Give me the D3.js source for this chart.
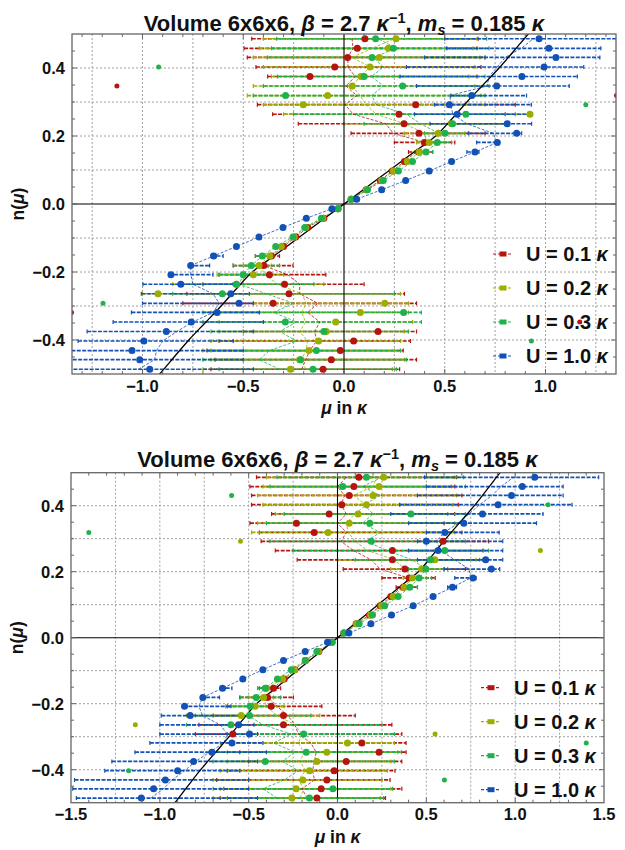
<!DOCTYPE html>
<html><head><meta charset="utf-8">
<script src="https://cdn.jsdelivr.net/npm/d3@7"></script>
<style>
body{margin:0;background:#fff}
svg{display:block}
text{font-family:"Liberation Sans",Arial,sans-serif;font-weight:bold;fill:#111}
</style>
</head><body>
<svg id="chart" width="625" height="850"></svg>
<script>
// ---------- data ----------
const densities = [-0.486,-0.458,-0.431,-0.403,-0.375,-0.347,-0.319,-0.292,-0.264,-0.236,-0.208,-0.181,-0.153,-0.125,-0.097,-0.069,-0.042,-0.014,
                    0.014,0.042,0.069,0.097,0.125,0.153,0.181,0.208,0.236,0.264,0.292,0.319,0.347,0.375,0.403,0.431,0.458,0.486];
const legendValues = ["0.1","0.2","0.3","1.0"];
const seriesColors = ["#b5140f","#9cad00","#1fb24c","#1251b5"];
const curveDensity = [-0.55,-0.5,-0.45,-0.4,-0.35,-0.3,-0.25,-0.2,-0.15,-0.1,-0.05,0,0.05,0.1,0.15,0.2,0.25,0.3,0.35,0.4,0.45,0.5,0.55];
const curveMu = [-0.99,-0.915,-0.843,-0.77,-0.69,-0.61,-0.535,-0.455,-0.341,-0.228,-0.114,0,0.114,0.228,0.341,0.455,0.535,0.61,0.69,0.77,0.843,0.915,0.99];
const xTicksTop = [-1,-0.5,0,0.5,1];
const xTicksBottom = [-1.5,-1,-0.5,0,0.5,1,1.5];
const yTicks = [-0.4,-0.2,0,0.2,0.4];

// top panel
const topRedMu = [-0.104,-0.063,-0.018,0.048,0.169,1.17,-1.352,-0.352,-0.273,-0.295,-0.37,-0.398,-0.36,-0.30,-0.24,-0.18,-0.10,-0.03,
                  0.035,0.11,0.18,0.24,0.30,0.37,0.399,0.372,0.298,0.273,0.356,1.352,-1.127,-0.169,-0.046,0.018,0.066,0.104];
const topRedLo = [-0.66,-0.64,-0.68,-0.62,-0.50,null,null,-0.80,-0.78,-0.70,-0.62,-0.55,-0.44,null,null,null,null,null,
                  null,null,null,null,null,0.32,0.25,0.035,-0.227,-0.354,-0.43,null,null,-0.379,-0.437,-0.48,-0.496,-0.458];
const topRedHi = [0.276,0.36,0.294,0.33,0.36,null,null,0.36,0.30,0.10,-0.09,-0.253,-0.32,null,null,null,null,null,
                  null,null,null,null,null,0.44,0.55,0.70,0.82,0.80,0.85,null,null,0.66,0.68,0.70,0.66,0.666];
const topRedLine = [-0.21,-0.19,-0.17,-0.136,-0.145,-0.12,-0.18,-0.13,-0.22,-0.22,-0.28,-0.40,-0.36,-0.30,-0.24,-0.18,-0.10,-0.03,
                    0.035,0.11,0.18,0.24,0.30,0.36,0.40,0.245,0.207,0.046,0.005,0.063,0.01,0.055,0.02,0.018,0.045,0.04];

const topOliveMu = [-0.266,-0.22,-0.174,-0.126,-0.088,-0.041,0.081,0.202,-0.923,-0.534,-0.45,-0.422,-0.368,-0.311,-0.247,-0.19,-0.105,-0.03,
                    0.035,0.112,0.187,0.245,0.314,0.374,0.423,0.468,0.534,0.923,-0.202,-0.081,0.041,0.084,0.129,0.175,0.22,0.258];
const topOliveLo = [-0.70,-0.66,-0.70,-0.66,-0.62,-0.62,-0.66,-0.45,-1.0,-0.85,-0.63,-0.50,-0.40,null,null,null,null,null,
                    null,null,null,null,null,0.35,0.36,0.30,0.0,-0.30,-0.40,-0.48,-0.45,-0.36,-0.40,-0.45,-0.42,-0.40];
const topOliveHi = [0.24,0.30,0.25,0.28,0.30,0.34,0.32,0.32,0.28,-0.10,-0.30,-0.36,-0.35,null,null,null,null,null,
                    null,null,null,null,null,0.40,0.50,0.60,0.80,0.93,0.70,0.68,0.65,0.62,0.65,0.675,0.64,0.66];
const topOliveLine = [-0.19,-0.21,-0.19,-0.18,-0.22,-0.19,-0.21,-0.187,-0.21,-0.33,-0.39,-0.42,-0.368,-0.311,-0.247,-0.19,-0.105,-0.03,
                      0.035,0.112,0.187,0.245,0.314,0.374,0.41,0.40,0.30,0.16,0.11,0.08,0.04,0.08,0.13,0.04,0.14,0.25];

const topGreenMu = [-0.154,-0.215,-0.137,0.93,-0.10,-0.291,0.296,-1.196,-0.604,-0.534,-0.50,-0.46,-0.405,-0.339,-0.253,-0.195,-0.112,-0.03,
                    0.037,0.117,0.195,0.27,0.34,0.407,0.463,0.501,0.539,0.605,1.2,-0.29,0.291,0.10,-0.92,0.139,0.245,0.157];
const topGreenLo = [-0.62,-0.70,-0.66,null,-0.66,-0.70,-0.70,null,-0.85,-0.80,-0.62,-0.55,-0.44,null,null,null,null,null,
                    null,null,null,null,null,0.38,0.40,0.40,0.10,-0.25,null,-0.45,-0.40,-0.33,null,-0.38,-0.36,-0.334];
const topGreenHi = [0.26,0.31,0.28,null,0.32,0.384,0.384,null,0.25,-0.15,-0.38,-0.32,-0.38,null,null,null,null,null,
                    null,null,null,null,null,0.44,0.534,0.62,0.82,0.85,null,0.70,0.72,0.70,null,0.70,0.72,0.708];
const topGreenLine = [-0.32,-0.42,-0.37,-0.235,-0.32,-0.235,-0.35,-0.25,-0.385,-0.52,-0.50,-0.46,-0.405,-0.339,-0.253,-0.195,-0.112,-0.03,
                      0.037,0.117,0.195,0.27,0.34,0.407,0.463,0.47,0.38,0.31,0.16,0.137,0.195,0.137,0.195,0.145,0.26,0.17];

const topBlueMu = [-0.964,-1.014,-1.052,-0.993,-0.882,-0.758,-0.63,-0.521,-0.562,-0.81,-0.859,-0.761,-0.647,-0.534,-0.422,-0.303,-0.187,-0.06,
                   0.063,0.187,0.306,0.423,0.534,0.65,0.761,0.857,0.81,0.562,0.523,0.634,0.758,0.883,0.993,1.052,1.017,0.968];
const topBlueLo = [-1.45,-1.40,-1.38,-1.32,-1.275,-1.146,-1.055,-1.0,-1.006,-0.998,-0.87,-0.77,-0.66,null,null,null,null,null,
                   null,null,null,null,null,0.61,0.658,0.617,0.427,0.35,0.45,0.53,0.36,0.278,0.31,0.40,0.51,0.50];
const topBlueHi = [-0.45,-0.50,-0.50,-0.55,-0.45,-0.40,-0.42,-0.45,-0.47,-0.55,-0.65,-0.667,-0.60,null,null,null,null,null,
                   null,null,null,null,null,0.67,0.77,0.882,0.931,0.935,0.93,0.906,1.118,1.158,1.19,1.27,1.275,1.45];
const topBlueLine = [-1.02,-0.94,-0.93,-0.90,-0.83,-0.75,-0.65,-0.62,-0.65,-0.75,-0.76,-0.761,-0.647,-0.534,-0.422,-0.303,-0.187,-0.06,
                     0.063,0.187,0.306,0.423,0.534,0.65,0.761,0.74,0.61,0.54,0.53,0.526,0.71,0.72,0.76,0.80,0.88,0.94];

// bottom panel
const botRedMu = [-0.116,-0.092,-0.06,-0.019,0.049,0.234,0.137,-0.589,-0.304,-0.304,-0.373,-0.394,-0.36,-0.30,-0.24,-0.18,-0.105,-0.035,
                  0.035,0.105,0.18,0.24,0.30,0.37,0.403,0.379,0.309,0.309,0.594,-0.131,-0.231,-0.047,0.024,0.066,0.092,0.12];
const botRedLo = [-0.66,-0.64,-0.68,-0.62,-0.50,-0.55,-0.60,-0.80,-0.78,-0.70,-0.62,-0.55,-0.44,null,null,null,null,null,
                  null,null,null,null,null,0.33,0.25,0.032,-0.227,-0.35,-0.43,-0.44,-0.493,-0.371,-0.484,-0.484,-0.493,-0.456];
const botRedHi = [0.27,0.362,0.296,0.324,0.362,0.386,0.386,0.362,0.306,0.10,-0.088,-0.248,-0.32,null,null,null,null,null,
                  null,null,null,null,null,0.45,0.55,0.72,0.82,0.82,0.85,0.70,0.60,0.66,0.68,0.70,0.66,0.67];
const botRedLine = [-0.17,-0.20,-0.13,-0.14,-0.13,-0.12,-0.15,-0.22,-0.24,-0.28,-0.34,-0.39,-0.36,-0.30,-0.24,-0.18,-0.105,-0.035,
                    0.035,0.105,0.18,0.24,0.30,0.36,0.40,0.24,0.19,0.09,0.02,0.05,0.0,0.05,0.02,0.04,0.0,0.05];

const botOliveMu = [-0.257,-0.233,-0.195,-0.158,-0.116,-0.06,0.056,0.549,-1.138,-0.542,-0.463,-0.416,-0.40,-0.308,-0.242,-0.18,-0.107,-0.03,
                    0.037,0.107,0.186,0.248,0.313,0.375,0.422,0.473,0.548,1.142,-0.546,-0.053,0.066,0.116,0.163,0.20,0.234,0.26];
const botOliveLo = [-0.70,-0.66,-0.70,-0.66,-0.62,-0.62,-0.66,null,null,-0.85,-0.63,-0.50,-0.42,null,null,null,null,null,
                    null,null,null,null,null,0.36,0.37,0.30,0.0,null,null,-0.484,-0.45,-0.35,-0.42,-0.45,-0.42,-0.40];
const botOliveHi = [0.24,0.30,0.25,0.28,0.30,0.34,0.32,null,null,-0.10,-0.30,-0.36,-0.37,null,null,null,null,null,
                    null,null,null,null,null,0.40,0.50,0.60,0.78,null,null,0.66,0.66,0.62,0.65,0.67,0.64,0.66];
const botOliveLine = [-0.21,-0.19,-0.22,-0.18,-0.21,-0.19,-0.22,-0.20,-0.24,-0.34,-0.40,-0.416,-0.40,-0.308,-0.242,-0.18,-0.107,-0.03,
                      0.037,0.107,0.186,0.248,0.313,0.375,0.42,0.38,0.32,0.17,0.10,0.06,0.05,0.10,0.16,0.09,0.20,0.22];

const botGreenMu = [-0.158,-0.026,0.602,-1.176,-0.407,-0.176,1.40,-0.19,-0.60,-0.495,-0.491,-0.458,-0.407,-0.338,-0.26,-0.182,-0.116,-0.03,
                    0.037,0.122,0.197,0.266,0.341,0.407,0.459,0.497,0.523,0.604,0.19,-1.40,0.182,0.413,1.185,-0.596,0.03,0.163];
const botGreenLo = [-0.62,-0.70,null,null,-0.70,-0.70,null,-0.62,-0.85,-0.80,-0.62,-0.548,-0.45,null,null,null,null,null,
                    null,null,null,null,null,0.38,0.40,0.40,0.10,-0.25,-0.38,null,-0.40,-0.30,null,null,-0.38,-0.34];
const botGreenHi = [0.26,0.31,null,null,0.32,0.36,null,0.32,0.25,-0.15,-0.38,-0.32,-0.38,null,null,null,null,null,
                    null,null,null,null,null,0.45,0.53,0.62,0.80,0.85,0.72,null,0.72,0.72,null,null,0.72,0.71];
const botGreenLine = [-0.34,-0.42,-0.30,-0.22,-0.31,-0.24,-0.36,-0.26,-0.42,-0.50,-0.491,-0.458,-0.407,-0.338,-0.26,-0.182,-0.116,-0.03,
                      0.037,0.122,0.197,0.266,0.341,0.407,0.459,0.50,0.42,0.28,0.16,0.24,0.14,0.20,0.15,0.24,0.14,0.25];

const botBlueMu = [-1.104,-1.035,-0.969,-0.90,-0.81,-0.707,-0.594,-0.495,-0.557,-0.829,-0.861,-0.758,-0.647,-0.533,-0.42,-0.304,-0.182,-0.056,
                   0.064,0.188,0.304,0.426,0.538,0.647,0.763,0.866,0.834,0.566,0.50,0.604,0.711,0.816,0.904,0.979,1.04,1.11];
const botBlueLo = [-1.47,-1.49,-1.48,-1.31,-1.27,-1.14,-1.056,-1.0,-1.0,-0.992,-0.87,-0.77,-0.66,null,null,null,null,null,
                   null,null,null,null,null,0.62,0.66,0.60,0.45,0.40,0.45,0.50,0.40,0.30,0.35,0.45,0.50,0.49];
const botBlueHi = [-0.45,-0.50,-0.50,-0.55,-0.45,-0.40,-0.42,-0.45,-0.47,-0.55,-0.60,-0.664,-0.594,null,null,null,null,null,
                   null,null,null,null,null,0.67,0.78,0.913,0.93,0.93,0.93,0.91,1.12,1.157,1.32,1.27,1.27,1.47];
const botBlueLine = [-1.05,-0.98,-0.93,-0.86,-0.80,-0.72,-0.64,-0.62,-0.66,-0.76,-0.78,-0.758,-0.647,-0.533,-0.42,-0.304,-0.182,-0.056,
                     0.064,0.188,0.304,0.426,0.538,0.647,0.75,0.74,0.66,0.58,0.557,0.60,0.68,0.74,0.80,0.87,0.92,0.99];

// ---------- drawing ----------
const svg = d3.select("#chart");
svg.append("rect").attr("width",625).attr("height",850).attr("fill","#fff");

function buildSeries(mus, los, his, lines){
  return mus.map((m,i)=>({color:seriesColors[i], label:legendValues[i], mu:m, lo:los[i], hi:his[i], line:lines[i]}));
}
const topSeries = buildSeries([topRedMu,topOliveMu,topGreenMu,topBlueMu],[topRedLo,topOliveLo,topGreenLo,topBlueLo],
                              [topRedHi,topOliveHi,topGreenHi,topBlueHi],[topRedLine,topOliveLine,topGreenLine,topBlueLine]);
const botSeries = buildSeries([botRedMu,botOliveMu,botGreenMu,botBlueMu],[botRedLo,botOliveLo,botGreenLo,botBlueLo],
                              [botRedHi,botOliveHi,botGreenHi,botBlueHi],[botRedLine,botOliveLine,botGreenLine,botBlueLine]);

function addTitle(g, cx, by){
  const t = g.append("text").attr("x",cx).attr("y",by).attr("text-anchor","middle").attr("font-size",22);
  t.append("tspan").text("Volume 6x6x6, ");
  t.append("tspan").attr("font-style","italic").text("β");
  t.append("tspan").text(" = 2.7 ");
  t.append("tspan").attr("font-style","italic").text("κ");
  t.append("tspan").attr("font-size",14.5).attr("dy",-8.5).text("−1");
  t.append("tspan").attr("dy",8.5).text(", ");
  t.append("tspan").attr("font-style","italic").text("m");
  t.append("tspan").attr("font-style","italic").attr("font-size",14.5).attr("dy",4).text("s");
  t.append("tspan").attr("dy",-4).text(" = 0.185 ");
  t.append("tspan").attr("font-style","italic").text("κ");
}

function drawPanel(cfg, series){
  const x = d3.scaleLinear().domain(cfg.xDomain).range([cfg.x0,cfg.x1]);
  const y = d3.scaleLinear().domain([-0.5,0.5]).range([cfg.y1,cfg.y0]);
  const cid = "clip"+cfg.id;
  svg.append("clipPath").attr("id",cid).append("rect")
    .attr("x",cfg.x0).attr("y",cfg.y0).attr("width",cfg.x1-cfg.x0).attr("height",cfg.y1-cfg.y0);
  const g = svg.append("g").attr("clip-path",`url(#${cid})`);

  // grid
  const gx = d3.range(-6,7).map(k=>k*0.25).filter(v=>Math.abs(v)>1e-9 && v>cfg.xDomain[0]+1e-6 && v<cfg.xDomain[1]-1e-6);
  const gy = [-0.4,-0.3,-0.2,-0.1,0.1,0.2,0.3,0.4];
  g.append("g").selectAll("line").data(gx).join("line")
    .attr("x1",d=>x(d)).attr("x2",d=>x(d)).attr("y1",cfg.y0).attr("y2",cfg.y1)
    .attr("stroke","#a0a0a0").attr("stroke-width",1).attr("stroke-dasharray","2,2");
  g.append("g").selectAll("line").data(gy).join("line")
    .attr("y1",d=>y(d)).attr("y2",d=>y(d)).attr("x1",cfg.x0).attr("x2",cfg.x1)
    .attr("stroke","#a0a0a0").attr("stroke-width",1).attr("stroke-dasharray","2,2");

  // error bars
  series.forEach(s=>{
    const rows = densities.map((n,i)=>({n, lo:s.lo[i], hi:s.hi[i]})).filter(d=>d.lo!==null && d.hi!==null);
    const bg = g.append("g").attr("stroke",s.color);
    bg.selectAll("line.bar").data(rows).join("line").attr("class","bar")
      .attr("x1",d=>x(d.lo)).attr("x2",d=>x(d.hi)).attr("y1",d=>y(d.n)).attr("y2",d=>y(d.n))
      .attr("stroke-width",1.7).attr("stroke-dasharray","4,1.4");
    const caps = rows.flatMap(d=>[{n:d.n,v:d.lo},{n:d.n,v:d.hi}]);
    bg.selectAll("line.cap").data(caps).join("line").attr("class","cap")
      .attr("x1",d=>x(d.v)).attr("x2",d=>x(d.v)).attr("y1",d=>y(d.n)-2).attr("y2",d=>y(d.n)+2)
      .attr("stroke-width",1.2);
  });

  // joined dashed lines
  const lineGen = d3.line().x(d=>x(d.v)).y(d=>y(d.n));
  series.forEach(s=>{
    g.append("path").datum(densities.map((n,i)=>({n, v:s.line[i]})))
      .attr("d",lineGen).attr("fill","none").attr("stroke",s.color)
      .attr("stroke-width",0.9).attr("stroke-dasharray","3,1.6").attr("opacity",0.9);
  });

  // axes at zero
  g.append("line").attr("x1",x(0)).attr("x2",x(0)).attr("y1",cfg.y0).attr("y2",cfg.y1).attr("stroke","#000").attr("stroke-width",1.1);
  g.append("line").attr("y1",y(0)).attr("y2",y(0)).attr("x1",cfg.x0).attr("x2",cfg.x1).attr("stroke","#000").attr("stroke-width",1.1);

  // reference curve
  const cg = d3.line().x(d=>x(d.m)).y(d=>y(d.n)).curve(d3.curveMonotoneY);
  g.append("path").datum(curveDensity.map((n,i)=>({n, m:curveMu[i]})))
    .attr("d",cg).attr("fill","none").attr("stroke","#000").attr("stroke-width",1.3);

  // points
  series.forEach(s=>{
    const pts = densities.map((n,i)=>({n, m:s.mu[i], out:s.lo[i]===null && Math.abs(n)>0.13}));
    g.append("g").selectAll("circle").data(pts).join("circle")
      .attr("cx",d=>x(d.m)).attr("cy",d=>y(d.n)).attr("r",d=>d.out?2.5:3.5).attr("fill",s.color);
  });

  // frame
  svg.append("rect").attr("x",cfg.x0).attr("y",cfg.y0).attr("width",cfg.x1-cfg.x0).attr("height",cfg.y1-cfg.y0)
    .attr("fill","none").attr("stroke","#666").attr("stroke-width",1.3);

  // frame ticks
  const tg = svg.append("g").attr("stroke","#666").attr("stroke-width",1);
  const xMinor = d3.range(-15,16).map(k=>k*0.1).filter(v=>v>cfg.xDomain[0]+1e-6 && v<cfg.xDomain[1]-1e-6);
  const yMinor = d3.range(-9,10).map(k=>k*0.05);
  const isMajX = v=>cfg.xTicks.some(t=>Math.abs(t-v)<1e-6);
  const isMajY = v=>yTicks.some(t=>Math.abs(t-v)<1e-6);
  xMinor.forEach(v=>{
    const L = isMajX(v)?5:3;
    tg.append("line").attr("x1",x(v)).attr("x2",x(v)).attr("y1",cfg.y1).attr("y2",cfg.y1-L);
    tg.append("line").attr("x1",x(v)).attr("x2",x(v)).attr("y1",cfg.y0).attr("y2",cfg.y0+L);
  });
  yMinor.forEach(v=>{
    const L = isMajY(v)?5:3;
    tg.append("line").attr("y1",y(v)).attr("y2",y(v)).attr("x1",cfg.x0).attr("x2",cfg.x0+L);
    tg.append("line").attr("y1",y(v)).attr("y2",y(v)).attr("x1",cfg.x1).attr("x2",cfg.x1-L);
  });

  // tick labels
  const fmt = d3.format(".1f");
  svg.append("g").selectAll("text").data(cfg.xTicks).join("text")
    .attr("x",d=>x(d)).attr("y",cfg.xLabelY).attr("text-anchor","middle").attr("font-size",16.5).text(d=>fmt(d));
  svg.append("g").selectAll("text").data(yTicks).join("text")
    .attr("x",cfg.x0-7).attr("y",d=>y(d)+6).attr("text-anchor","end").attr("font-size",16.5).text(d=>fmt(d));

  // axis titles
  const cy = (cfg.y0+cfg.y1)/2, cx = (cfg.x0+cfg.x1)/2;
  const yl = svg.append("text").attr("transform",`translate(${cfg.x0-48},${cy}) rotate(-90)`)
    .attr("text-anchor","middle").attr("font-size",17.5);
  yl.append("tspan").text("n(");
  yl.append("tspan").attr("font-style","italic").text("μ");
  yl.append("tspan").text(")");
  const xl = svg.append("text").attr("x",cx).attr("y",cfg.axisTitleY).attr("text-anchor","middle").attr("font-size",17.5);
  xl.append("tspan").attr("font-style","italic").text("μ");
  xl.append("tspan").text(" in ");
  xl.append("tspan").attr("font-style","italic").text("κ");

  addTitle(svg, cx, cfg.titleY);

  // legend
  const lg = svg.append("g");
  series.forEach((s,i)=>{
    const ly = y(0) + 50 + 34*i;
    const lx = cfg.x1 - 113;
    lg.append("line").attr("x1",lx-10).attr("x2",lx+10).attr("y1",ly).attr("y2",ly)
      .attr("stroke",s.color).attr("stroke-width",1.2).attr("stroke-dasharray","3,2");
    lg.append("rect").attr("x",lx-3.5).attr("y",ly-2.5).attr("width",7).attr("height",5).attr("fill",s.color);
    const t = lg.append("text").attr("x",cfg.x1-90).attr("y",ly+7).attr("font-size",20);
    t.append("tspan").text(`U = ${s.label} `);
    t.append("tspan").attr("font-style","italic").text("κ");
  });
}

drawPanel({id:"top", x0:72, x1:616, y0:34, y1:374, xDomain:[-1.35,1.35], xTicks:xTicksTop,
           xLabelY:392, axisTitleY:414, titleY:31}, topSeries);
drawPanel({id:"bot", x0:71, x1:604, y0:472.7, y1:802.7, xDomain:[-1.5,1.5], xTicks:xTicksBottom,
           xLabelY:820, axisTitleY:843, titleY:467}, botSeries);
</script>
</body></html>
